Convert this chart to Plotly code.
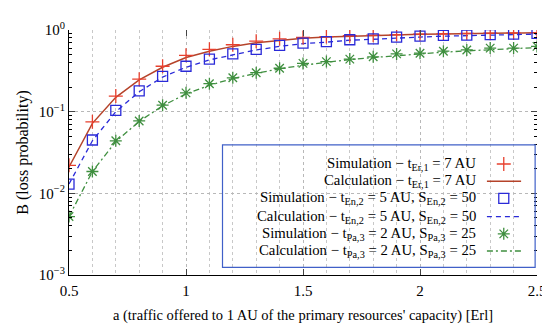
import plotly.graph_objects as go

a = [0.5, 0.6, 0.7, 0.8, 0.9, 1.0, 1.1, 1.2, 1.3, 1.4, 1.5, 1.6, 1.7, 1.8, 1.9, 2.0, 2.1, 2.2, 2.3, 2.4, 2.5]
sim_er = [0.022, 0.075, 0.155, 0.25, 0.36, 0.49, 0.58, 0.66, 0.73, 0.78, 0.81, 0.83, 0.85, 0.865, 0.88, 0.89, 0.90, 0.91, 0.915, 0.92, 0.93]
calc_er = [0.021, 0.072, 0.15, 0.245, 0.35, 0.46, 0.55, 0.63, 0.70, 0.75, 0.79, 0.82, 0.84, 0.86, 0.875, 0.885, 0.895, 0.905, 0.91, 0.915, 0.925]
sim_en = [0.013, 0.045, 0.104, 0.18, 0.27, 0.36, 0.44, 0.51, 0.58, 0.65, 0.69, 0.72, 0.76, 0.78, 0.82, 0.84, 0.86, 0.865, 0.88, 0.89, 0.91]
calc_en = [0.013, 0.044, 0.10, 0.175, 0.265, 0.35, 0.43, 0.50, 0.57, 0.63, 0.68, 0.71, 0.75, 0.77, 0.80, 0.82, 0.84, 0.85, 0.865, 0.875, 0.89]
sim_pa = [0.0052, 0.0185, 0.044, 0.077, 0.12, 0.17, 0.22, 0.26, 0.30, 0.34, 0.39, 0.41, 0.44, 0.47, 0.51, 0.52, 0.55, 0.57, 0.60, 0.60, 0.63]
calc_pa = [0.0052, 0.0185, 0.043, 0.076, 0.118, 0.165, 0.21, 0.255, 0.295, 0.335, 0.37, 0.405, 0.435, 0.46, 0.485, 0.51, 0.535, 0.555, 0.575, 0.59, 0.61]

labels = [
    "Simulation − t<sub>Er,1</sub> = 7 AU",
    "Calculation − t<sub>Er,1</sub> = 7 AU",
    "Simulation − t<sub>En,2</sub> = 5 AU, S<sub>En,2</sub> = 50",
    "Calculation − t<sub>En,2</sub> = 5 AU, S<sub>En,2</sub> = 50",
    "Simulation − t<sub>Pa,3</sub> = 2 AU, S<sub>Pa,3</sub> = 25",
    "Calculation − t<sub>Pa,3</sub> = 2 AU, S<sub>Pa,3</sub> = 25",
]
x_ticks = [0.5, 1, 1.5, 2, 2.5]
x_ticktext = ["0.5", "1", "1.5", "2", "2.5"]
y_ticks = [0.001, 0.01, 0.1, 1]
y_ticktext = ["10<sup>−3</sup>", "10<sup>−2</sup>", "10<sup>−1</sup>", "10<sup>0</sup>"]

RED_M = "#e8402e"
RED_L = "#b5432a"
BLUE = "#2a2ad8"
GREEN = "#3f8f3f"
FONT = "Liberation Serif"

styles = [
    dict(mode="markers", marker=dict(symbol="cross-thin-open", size=10, color=RED_M, line=dict(color=RED_M, width=1.3))),
    dict(mode="lines", line=dict(color=RED_L, width=1.5)),
    dict(mode="markers", marker=dict(symbol="square-open", size=10, color=BLUE, line=dict(color=BLUE, width=1.3))),
    dict(mode="lines", line=dict(color=BLUE, width=1.3, dash="5px,4px")),
    dict(mode="markers", marker=dict(symbol="asterisk-open", size=10, color=GREEN, line=dict(color=GREEN, width=1.3))),
    dict(mode="lines", line=dict(color=GREEN, width=1.3, dash="6px,3px,2px,3px")),
]
series = [sim_er, calc_er, sim_en, calc_en, sim_pa, calc_pa]
order = [1, 3, 5, 0, 2, 4]

fig = go.Figure()
for i in order:
    fig.add_trace(go.Scatter(x=a, y=series[i], showlegend=False, hoverinfo="skip", **styles[i]))

# custom legend (symbols to the right of the text)
row_y = [0.453, 0.383, 0.3125, 0.238, 0.168, 0.098]
for i, lab in enumerate(labels):
    fig.add_annotation(x=0.874, y=row_y[i], xref="paper", yref="paper", text=lab,
                       showarrow=False, xanchor="right", yanchor="middle",
                       font=dict(family=FONT, size=14.75, color="black"))
    st = styles[i]
    if st["mode"] == "lines":
        fig.add_trace(go.Scatter(x=[0.893, 0.966], y=[row_y[i], row_y[i]], xaxis="x2", yaxis="y2",
                                 showlegend=False, hoverinfo="skip", **st))
    else:
        fig.add_trace(go.Scatter(x=[0.929], y=[row_y[i]], xaxis="x2", yaxis="y2",
                                 showlegend=False, hoverinfo="skip", **st))

fig.add_shape(type="rect", xref="paper", yref="paper", x0=0.328, x1=0.996, y0=0.031, y1=0.531,
              line=dict(color="#4060c8", width=1.2), fillcolor="rgba(0,0,0,0)")

grid = dict(gridcolor="#b8b8b8", griddash="dot", gridwidth=1)
fig.update_layout(
    width=550, height=328,
    margin=dict(l=61, r=13, t=13, b=61),
    paper_bgcolor="white", plot_bgcolor="white",
    font=dict(family=FONT, size=14, color="black"),
    xaxis=dict(range=[0.5, 2.5], tickvals=x_ticks, ticktext=x_ticktext, ticks="inside", ticklen=6,
               tickfont=dict(size=15), ticklabelstandoff=2,
               showline=True, linecolor="black", linewidth=1.2, zeroline=False,
               showgrid=True, minor=dict(dtick=0.1, showgrid=True, gridcolor="#c8c8c8", griddash="dot"),
               title=dict(text="a (traffic offered to 1 AU of the primary resources' capacity) [Erl]",
                          standoff=11, font=dict(size=14.5)),
               **grid),
    yaxis=dict(type="log", range=[-3, 0], tickvals=y_ticks, ticktext=y_ticktext, ticks="inside", ticklen=6,
               tickfont=dict(size=15),
               showline=True, linecolor="black", linewidth=1.2, zeroline=False,
               minor=dict(ticks="inside", ticklen=3, dtick="D1", showgrid=False, tickcolor="black"),
               title=dict(text="B (loss probability)", standoff=6, font=dict(size=16)),
               **grid),
    xaxis2=dict(overlaying="x", range=[0, 1], visible=False),
    yaxis2=dict(overlaying="y", range=[0, 1], visible=False),
    xaxis3=dict(overlaying="x", side="top", range=[0.5, 2.5], tickvals=x_ticks, ticks="inside", ticklen=6,
                showticklabels=False, showgrid=False, showline=False, zeroline=False),
    yaxis3=dict(overlaying="y", side="right", type="log", range=[-3, 0], tickvals=y_ticks, ticks="inside",
                ticklen=6, showticklabels=False, showgrid=False, showline=False, zeroline=False,
                minor=dict(ticks="inside", ticklen=3, dtick="D1", tickcolor="black")),
)
# dummy trace so the mirror axes are drawn
fig.add_trace(go.Scatter(x=[None], y=[None], xaxis="x3", yaxis="y3", showlegend=False, hoverinfo="skip"))
fig.write_html("out.html")
